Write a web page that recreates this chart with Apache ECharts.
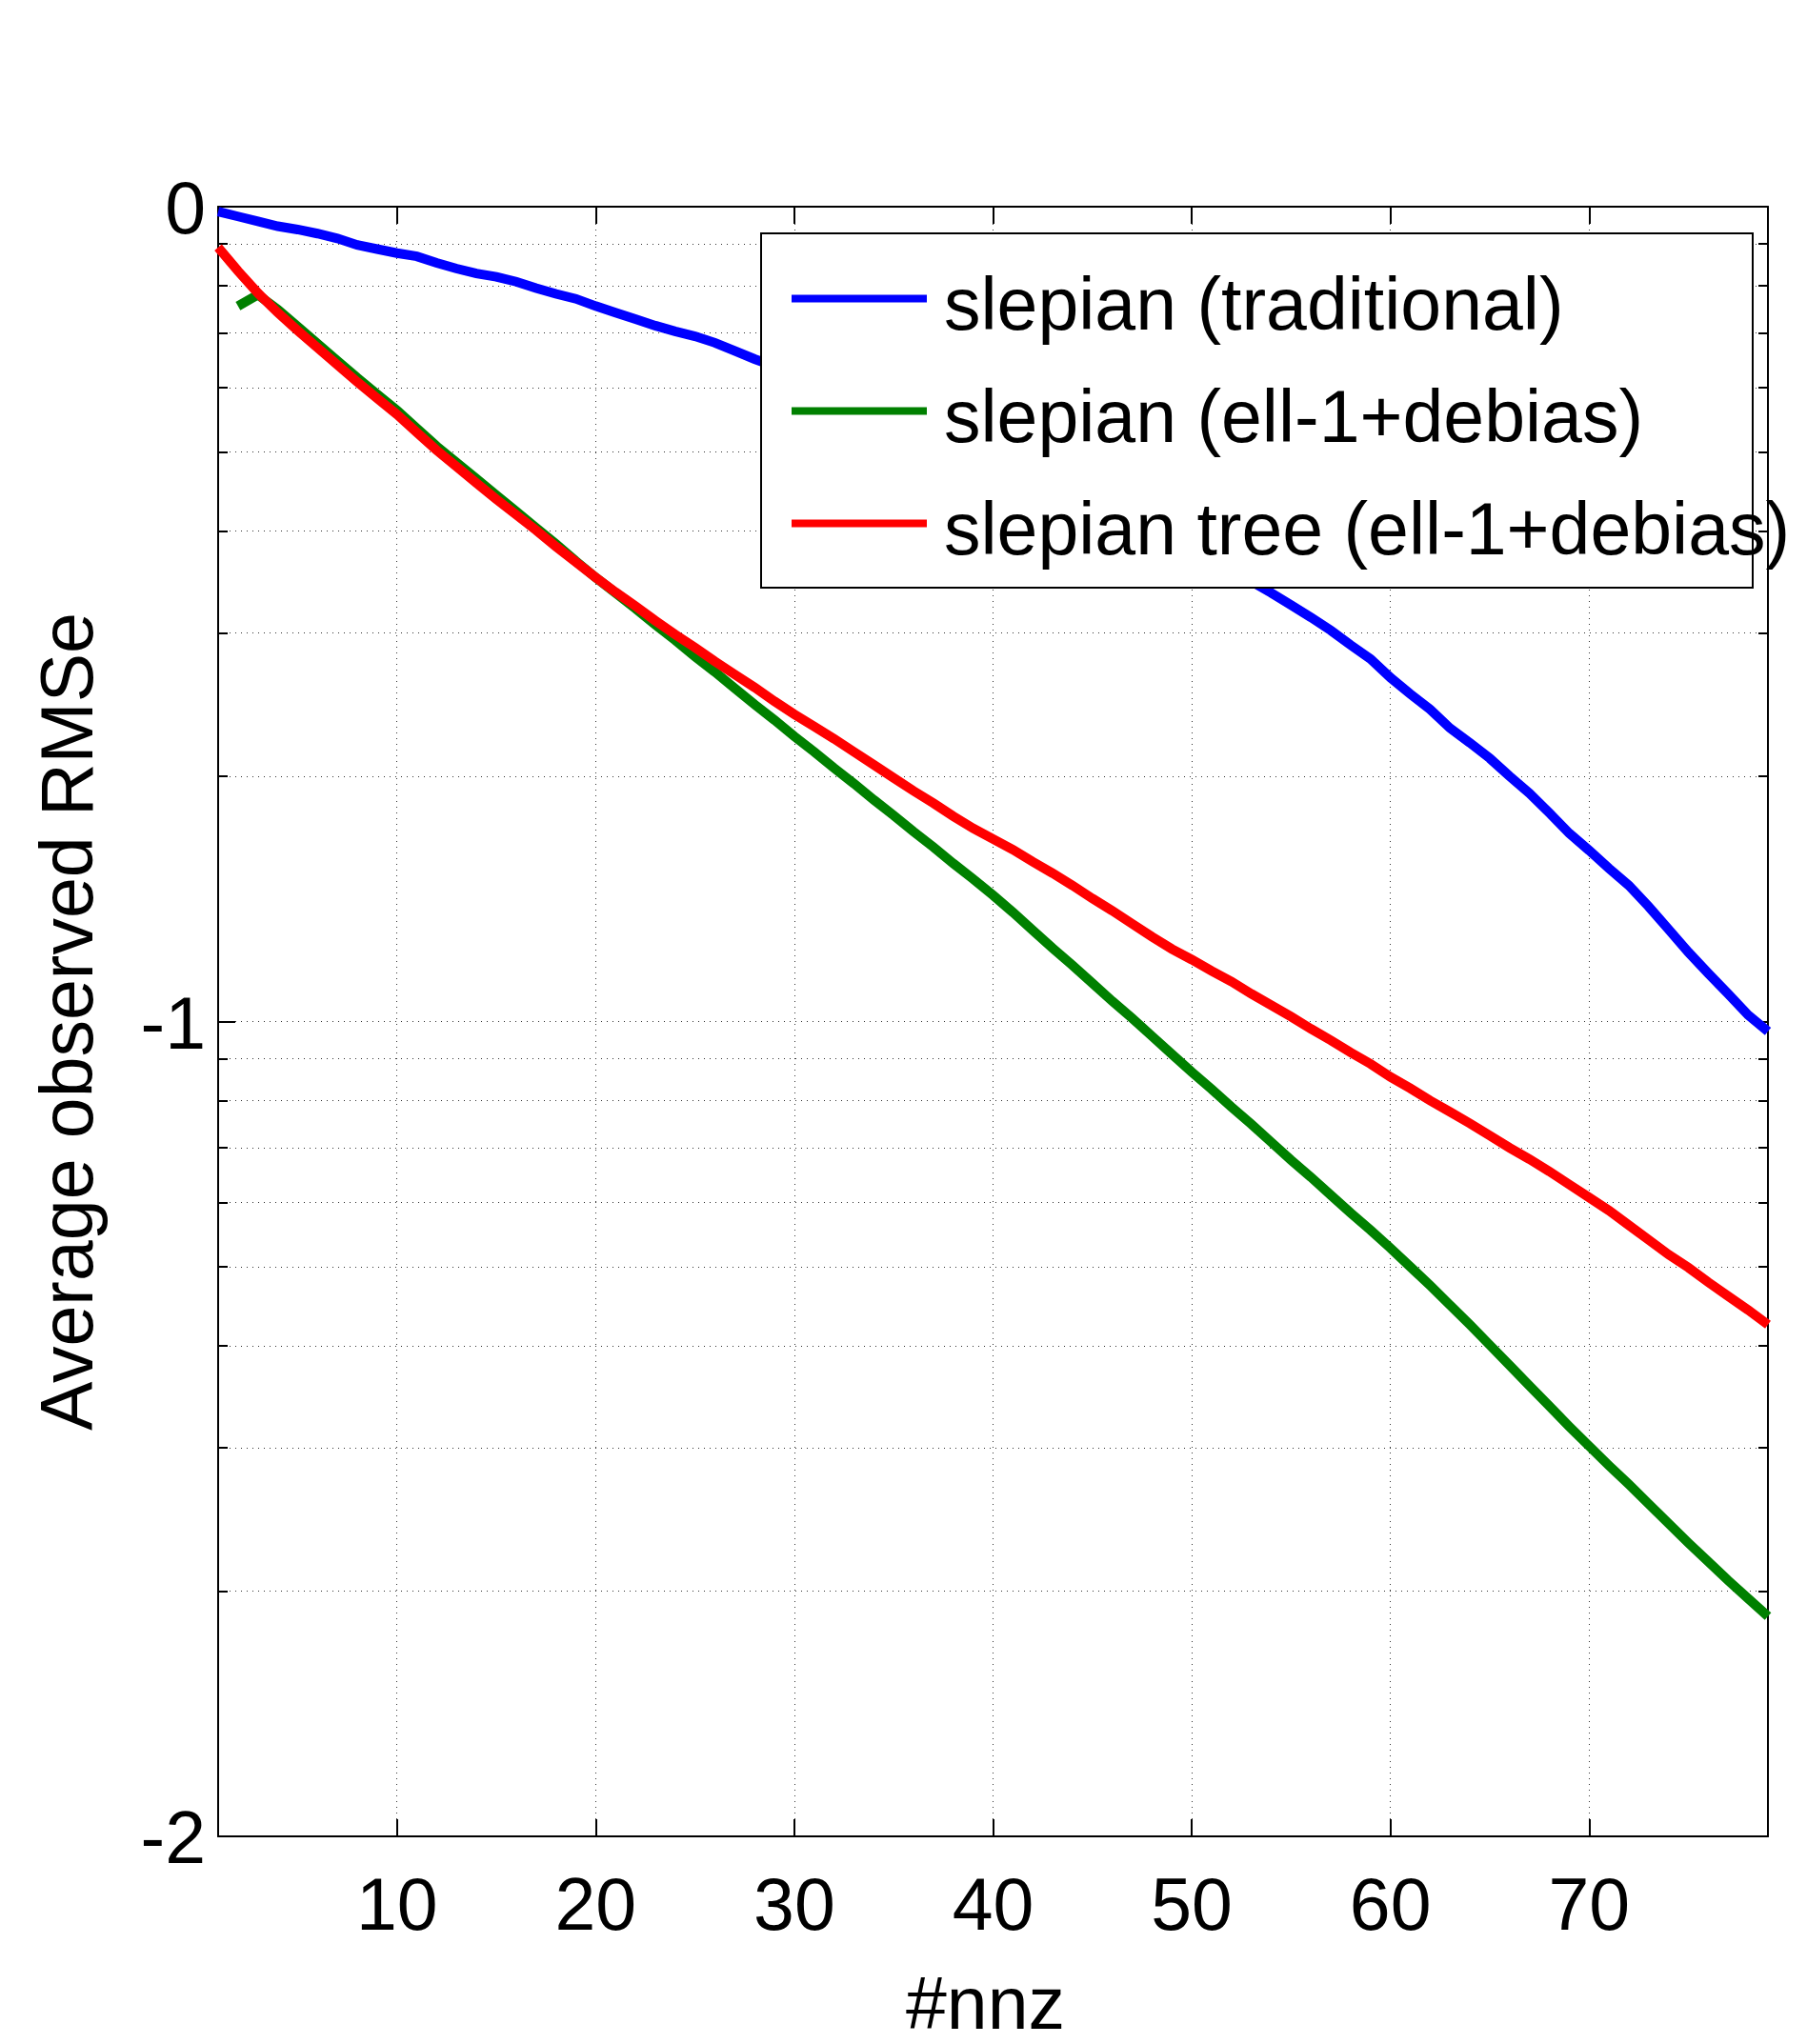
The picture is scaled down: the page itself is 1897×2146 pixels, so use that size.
<!DOCTYPE html>
<html>
<head>
<meta charset="utf-8">
<script src="https://cdn.jsdelivr.net/npm/echarts@6/dist/echarts.min.js"></script>
<style>
  html, body { margin: 0; padding: 0; background: #ffffff; }
  #chart { width: 1897px; height: 2146px; }
</style>
</head>
<body>
<div id="chart"></div>
<script>
// x: number of non-zeros
const nnz = [1,2,3,4,5,6,7,8,9,10,11,12,13,14,15,16,17,18,19,20,
  21,22,23,24,25,26,27,28,29,30,31,32,33,34,35,36,37,38,39,40,
  41,42,43,44,45,46,47,48,49,50,51,52,53,54,55,56,57,58,59,60,
  61,62,63,64,65,66,67,68,69,70,71,72,73,74,75,76,77,78,79];

// y values: log10(average observed RMSe), as shown by the axis (0, -1, -2)
const slepianTraditional = [
  -0.006, -0.012, -0.018, -0.024, -0.028, -0.033, -0.039, -0.047, -0.052, -0.057,
  -0.061, -0.069, -0.076, -0.082, -0.086, -0.092, -0.100, -0.107, -0.113, -0.122,
  -0.130, -0.138, -0.146, -0.153, -0.159, -0.167, -0.177, -0.187, -0.196, -0.206,
  -0.217, -0.226, -0.236, -0.247, -0.257, -0.266, -0.277, -0.287, -0.297, -0.308,
  -0.318, -0.329, -0.340, -0.351, -0.362, -0.374, -0.385, -0.396, -0.408, -0.421,
  -0.434, -0.447, -0.460, -0.474, -0.489, -0.504, -0.520, -0.538, -0.555, -0.578,
  -0.598, -0.617, -0.640, -0.658, -0.677, -0.699, -0.720, -0.744, -0.769, -0.790,
  -0.812, -0.833, -0.859, -0.887, -0.915, -0.941, -0.966, -0.992, -1.012];

const slepianEll1 = [
  null, -0.122, -0.108, -0.126, -0.147, -0.168, -0.189, -0.210, -0.230, -0.250,
  -0.272, -0.294, -0.314, -0.334, -0.354, -0.374, -0.394, -0.414, -0.435, -0.455,
  -0.474, -0.493, -0.513, -0.532, -0.552, -0.571, -0.591, -0.611, -0.630, -0.650,
  -0.669, -0.689, -0.708, -0.728, -0.747, -0.767, -0.786, -0.806, -0.825, -0.845,
  -0.866, -0.888, -0.910, -0.931, -0.953, -0.975, -0.996, -1.018, -1.040, -1.062,
  -1.083, -1.105, -1.126, -1.148, -1.170, -1.191, -1.213, -1.235, -1.256, -1.278,
  -1.301, -1.324, -1.348, -1.372, -1.397, -1.422, -1.447, -1.472, -1.497, -1.521,
  -1.545, -1.568, -1.592, -1.616, -1.640, -1.663, -1.686, -1.708, -1.730];

const slepianTreeEll1 = [
  -0.050, -0.079, -0.106, -0.130, -0.152, -0.173, -0.194, -0.215, -0.235, -0.255,
  -0.277, -0.299, -0.319, -0.339, -0.359, -0.378, -0.397, -0.417, -0.436, -0.455,
  -0.473, -0.490, -0.508, -0.525, -0.541, -0.558, -0.574, -0.590, -0.607, -0.623,
  -0.638, -0.653, -0.669, -0.685, -0.701, -0.717, -0.732, -0.748, -0.763, -0.776,
  -0.789, -0.804, -0.818, -0.833, -0.849, -0.864, -0.880, -0.896, -0.911, -0.924,
  -0.938, -0.951, -0.966, -0.980, -0.994, -1.009, -1.023, -1.038, -1.052, -1.068,
  -1.082, -1.097, -1.111, -1.125, -1.140, -1.155, -1.169, -1.184, -1.200, -1.216,
  -1.232, -1.250, -1.268, -1.286, -1.302, -1.320, -1.337, -1.354, -1.372];

const seriesNames = ['slepian (traditional)', 'slepian (ell-1+debias)', 'slepian tree (ell-1+debias)'];
const seriesColors = ['#0000ff', '#008000', '#ff0000'];

// ticks
const xTicks = [10, 20, 30, 40, 50, 60, 70];
const yMajorTicks = [-2, -1, 0];
const minorMantissas = [0.9, 0.8, 0.7, 0.6, 0.5, 0.4, 0.3, 0.2, 0.09, 0.08, 0.07, 0.06, 0.05, 0.04, 0.03, 0.02];
const yMinorTicks = minorMantissas.map(m => Math.log10(m));

const FONT = "'Liberation Sans', Arial, Helvetica, sans-serif";
const FS = 77;
const dotted = { color: '#333', width: 1, type: [1, 5] };

const chart = echarts.init(document.getElementById('chart'), null, { renderer: 'canvas' });

function pairs(arr) { return nnz.map((x, i) => [x, arr[i]]); }

const option = {
  animation: false,
  backgroundColor: '#ffffff',
  textStyle: { fontFamily: FONT },
  grid: { left: 229, right: 41, top: 217, bottom: 218, containLabel: false, outerBoundsMode: 'none' },
  xAxis: [
    {
      type: 'value', min: 1, max: 79, position: 'bottom',
      name: '#nnz', nameLocation: 'middle', nameGap: 142,
      nameTextStyle: { fontSize: FS, color: '#000', fontFamily: FONT, padding: [0, 16, 0, 0] },
      axisLine: { show: true, onZero: false, lineStyle: { color: '#000', width: 2 } },
      axisTick: { show: true, inside: true, length: 18, customValues: xTicks, lineStyle: { color: '#000', width: 2 } },
      axisLabel: { show: true, customValues: xTicks, fontSize: FS, color: '#000', margin: 38, fontFamily: FONT },
      splitLine: { show: true, lineStyle: dotted },
      minorTick: { show: false }
    },
    {
      type: 'value', min: 1, max: 79, position: 'top',
      axisLine: { show: true, onZero: false, lineStyle: { color: '#000', width: 2 } },
      axisTick: { show: true, inside: true, length: 18, customValues: xTicks, lineStyle: { color: '#000', width: 2 } },
      axisLabel: { show: false },
      splitLine: { show: false }
    }
  ],
  yAxis: [
    {
      type: 'value', min: -2, max: 0, interval: 1, position: 'left',
      name: 'Average observed RMSe', nameLocation: 'middle', nameGap: 115,
      nameTextStyle: { fontSize: FS, color: '#000', fontFamily: FONT },
      axisLine: { show: true, onZero: false, lineStyle: { color: '#000', width: 2 } },
      axisTick: { show: true, inside: true, length: 18, customValues: yMajorTicks, lineStyle: { color: '#000', width: 2 } },
      axisLabel: { show: true, customValues: yMajorTicks, fontSize: FS, color: '#000', margin: 13, fontFamily: FONT,
                   verticalAlign: 'top', lineHeight: 14,
                   formatter: v => String(Math.round(v)) },
      splitLine: { show: true, lineStyle: dotted }
    },
    {
      type: 'value', min: -2, max: 0, position: 'left',
      axisLine: { show: false },
      axisTick: { show: true, inside: true, length: 10, customValues: yMinorTicks, lineStyle: { color: '#000', width: 2 } },
      axisLabel: { show: false, customValues: yMinorTicks },
      splitLine: { show: true, lineStyle: dotted }
    },
    {
      type: 'value', min: -2, max: 0, interval: 1, position: 'right',
      axisLine: { show: true, onZero: false, lineStyle: { color: '#000', width: 2 } },
      axisTick: { show: true, inside: true, length: 18, customValues: yMajorTicks, lineStyle: { color: '#000', width: 2 } },
      axisLabel: { show: false },
      splitLine: { show: false }
    },
    {
      type: 'value', min: -2, max: 0, position: 'right',
      axisLine: { show: false },
      axisTick: { show: true, inside: true, length: 10, customValues: yMinorTicks, lineStyle: { color: '#000', width: 2 } },
      axisLabel: { show: false, customValues: yMinorTicks },
      splitLine: { show: false }
    }
  ],
  legend: {
    orient: 'vertical',
    left: 831, top: 264,
    padding: 0,
    itemWidth: 142, itemHeight: 8, itemGap: 19,
    icon: 'rect',
    selectedMode: false,
    z: 10,
    formatter: '{t|{name}}',
    textStyle: {
      fontSize: FS, color: '#000', fontFamily: FONT,
      rich: { t: { fontSize: FS, color: '#000', fontFamily: FONT, lineHeight: 90, padding: [22, 0, 0, 13] } }
    },
    data: seriesNames
  },
  graphic: [
    {
      type: 'rect', z: 5,
      shape: { x: 799, y: 245, width: 1041, height: 372 },
      style: { fill: '#ffffff', stroke: '#000000', lineWidth: 2 }
    }
  ],
  series: [
    { name: seriesNames[0], data: pairs(slepianTraditional) },
    { name: seriesNames[1], data: pairs(slepianEll1) },
    { name: seriesNames[2], data: pairs(slepianTreeEll1) }
  ].map((s, i) => ({
    type: 'line',
    name: s.name,
    data: s.data,
    xAxisIndex: 0, yAxisIndex: 0,
    showSymbol: false, symbol: 'none',
    connectNulls: false,
    color: seriesColors[i],
    lineStyle: { color: seriesColors[i], width: 10, cap: 'butt', join: 'miter' },
    z: 2
  }))
};

chart.setOption(option);
</script>
</body>
</html>
